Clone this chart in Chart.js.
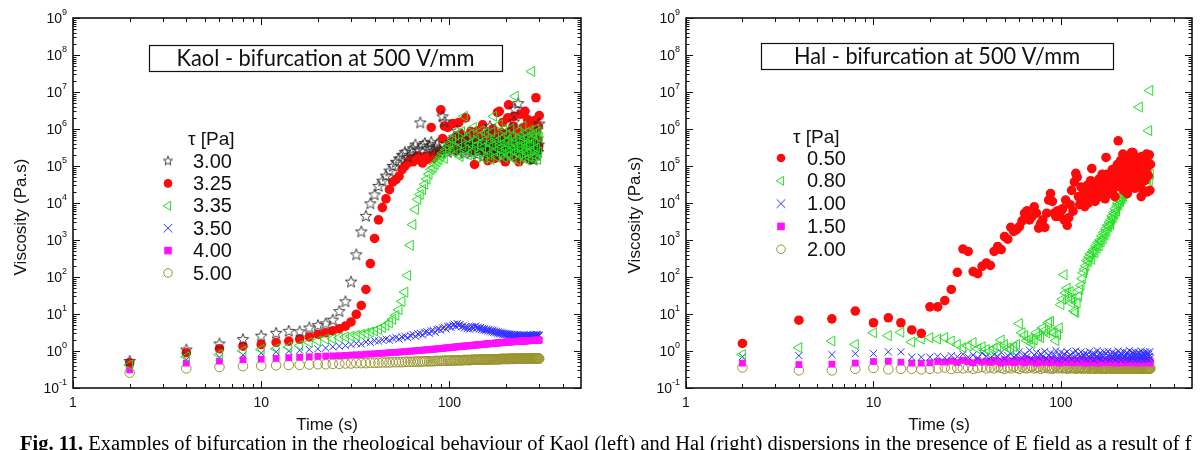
<!DOCTYPE html>
<html>
<head>
<meta charset="utf-8">
<script src="https://cdn.jsdelivr.net/npm/chart.js@4.4.1/dist/chart.umd.min.js"></script>
<style>
  html, body { margin: 0; padding: 0; background: #fff; }
  #wrap { position: relative; width: 1203px; height: 450px; overflow: hidden; }
  #left { position: absolute; left: 0; top: 0; }
  #right { position: absolute; left: 600px; top: 0; }
  #caption { position: absolute; left: 20px; top: 433px; white-space: nowrap; color: #000;
    font: 20.5px "Liberation Serif", "Times New Roman", serif; line-height: 20px; }
</style>
</head>
<body>
<div id="wrap">
  <canvas id="left" width="600" height="450"></canvas>
  <canvas id="right" width="603" height="450"></canvas>
  <div id="caption"><b>Fig. 11.</b> Examples of bifurcation in the rheological behaviour of Kaol (left) and Hal (right) dispersions in the presence of E field as a result of f</div>
</div>
<script>
// time (s), one reading every 2 s
const T = [
  2, 4, 6, 8, 10, 12, 14, 16, 18, 20,
  22, 24, 26, 28, 30, 32, 34, 36, 38, 40,
  42, 44, 46, 48, 50, 52, 54, 56, 58, 60,
  62, 64, 66, 68, 70, 72, 74, 76, 78, 80,
  82, 84, 86, 88, 90, 92, 94, 96, 98, 100,
  102, 104, 106, 108, 110, 112, 114, 116, 118, 120,
  122, 124, 126, 128, 130, 132, 134, 136, 138, 140,
  142, 144, 146, 148, 150, 152, 154, 156, 158, 160,
  162, 164, 166, 168, 170, 172, 174, 176, 178, 180,
  182, 184, 186, 188, 190, 192, 194, 196, 198, 200,
  202, 204, 206, 208, 210, 212, 214, 216, 218, 220,
  222, 224, 226, 228, 230, 232, 234, 236, 238, 240,
  242, 244, 246, 248, 250, 252, 254, 256, 258, 260,
  262, 264, 266, 268, 270, 272, 274, 276, 278, 280,
  282, 284, 286, 288, 290, 292, 294, 296, 298, 300
]

// ---- Kaol, viscosity (Pa.s) ----
const KAOL_300 = [
  0.54, 1.1, 1.6, 2.1, 2.6, 3.1, 3.5, 3.4, 4.3, 5.0,
  5.6, 7.0, 12, 22, 75, 410, 1700, 4500, 9800, 17000,
  29000, 40000, 55000, 75000, 1.0e5, 1.3e5, 1.6e5, 2.0e5, 2.4e5, 1.8e5,
  2.6e5, 3.0e5, 3.8e5, 2.8e5, 1.5e6, 3.6e5, 4.2e5, 3.0e5, 3.5e5, 4.5e5,
  2.6e5, 3.2e5, 4.0e5, 3.0e5, 2.2e5, 2.2e6, 1.6e6, 3.0e5, 2.4e5, 3.5e5,
  4.5e5, 2.8e5, 6.0e5, 3.2e5, 9.0e5, 2.5e5, 4.0e5, 3.0e5, 5.5e5, 2.2e5,
  3.6e5, 4.8e5, 2.7e5, 3.3e5, 6.5e5, 2.4e5, 3.8e5, 2.9e5, 4.4e5, 2.1e5,
  3.4e5, 5.0e5, 2.6e5, 3.1e5, 4.2e5, 1.9e5, 3.7e5, 2.8e5, 7.5e5, 2.3e5,
  3.5e5, 1.2e6, 2.7e5, 4.1e5, 3.0e5, 2.0e5, 4.6e5, 3.2e5, 2.5e5, 5.8e5,
  2.9e5, 3.9e5, 2.2e5, 4.4e5, 3.3e5, 1.8e5, 6.2e5, 2.6e5, 3.6e5, 2.4e5,
  4.9e5, 3.1e5, 2.0e5, 8.5e5, 3.4e5, 2.7e5, 4.3e5, 2.3e5, 3.8e5, 1.6e6,
  3.5e6, 2.9e5, 4.5e5, 2.1e5, 3.2e5, 5.0e6, 2.6e5, 4.0e5, 1.9e5, 3.0e5,
  5.4e5, 2.4e5, 3.7e5, 2.8e5, 6.8e5, 2.2e5, 3.3e5, 4.7e5, 1.8e5, 2.9e5,
  4.1e5, 2.5e5, 3.6e5, 1.7e5, 5.2e5, 2.7e5, 3.9e5, 1.6e5, 3.1e5, 1.5e5,
  4.6e5, 2.3e5, 8.0e5, 2.0e5, 3.4e5, 2.6e5, 5.6e5, 2.4e5, 3.8e5, 1.4e6
]
const KAOL_325 = [
  0.48, 0.9, 1.15, 1.35, 1.5, 1.7, 1.85, 2.1, 2.4, 2.8,
  3.1, 3.5, 4.0, 4.7, 6.1, 9.8, 17, 46, 230, 1100,
  3500, 7500, 13000, 23000, 37000, 43000, 53000, 80000, 1.0e5, 1.2e5,
  1.5e5, 1.3e5, 1.7e5, 1.9e5, 1.4e5, 1.2e5, 1.8e5, 1.5e5, 1.9e5, 1.1e6,
  1.6e5, 2.2e5, 2.0e5, 2.5e5, 3.3e6, 5.5e5, 1.2e6, 2.8e5, 1.1e6, 4.5e5,
  3.5e5, 1.4e6, 5.0e5, 2.6e5, 6.5e5, 1.5e6, 4.0e5, 7.0e5, 3.0e5, 5.5e5,
  2.0e6, 4.2e5, 6.0e5, 3.2e5, 8.5e5, 2.5e5, 4.8e5, 1.1e5, 6.2e5, 3.6e5,
  9.0e5, 2.8e5, 5.2e5, 4.0e5, 1.3e6, 3.0e5, 6.8e5, 2.2e5, 4.6e5, 1.4e5,
  7.5e5, 3.4e5, 5.8e5, 2.6e5, 1.0e6, 4.4e5, 1.6e5, 6.4e5, 3.1e5, 2.8e6,
  5.0e5, 3.0e6, 2.4e5, 8.0e5, 3.8e5, 1.5e6, 2.9e5, 5.6e5, 1.3e5, 7.2e5,
  4.1e5, 2.0e6, 4.5e6, 3.3e5, 6.0e5, 2.2e5, 9.5e5, 4.0e5, 1.2e6, 2.2e6,
  3.5e5, 5.4e5, 1.6e5, 8.0e5, 2.7e5, 6.6e5, 1.3e5, 4.3e5, 2.5e6, 3.6e5,
  7.0e5, 2.9e5, 1.1e6, 4.7e5, 2.3e5, 3.0e6, 5.5e5, 1.9e5, 8.8e5, 1.8e6,
  3.9e5, 6.2e5, 2.4e5, 1.4e6, 4.4e5, 1.5e5, 7.8e5, 3.2e5, 1.0e6, 2.6e5,
  5.9e5, 1.7e6, 3.7e5, 7.0e6, 8.2e5, 2.8e5, 4.9e5, 1.2e6, 3.4e5, 2.3e6
]
const KAOL_335 = [
  0.42, 0.7, 0.8, 1.0, 1.1, 1.15, 1.28, 1.4, 1.7, 1.85,
  2.1, 2.15, 2.3, 2.4, 2.5, 2.65, 2.8, 3.0, 3.25, 3.5,
  3.85, 4.3, 4.9, 5.8, 7.2, 9.2, 13, 22, 39, 110,
  720, 2600, 6700, 12500, 17000, 23000, 32000, 44000, 60000, 80000,
  90000, 1.1e5, 1.3e5, 1.5e5, 1.8e5, 2.2e5, 1.6e5, 2.8e5, 3.4e5, 4.0e5,
  2.6e5, 5.2e5, 3.0e5, 6.8e5, 2.2e5, 4.4e5, 1.8e5, 8.5e5, 3.6e5, 2.2e6,
  2.8e5, 5.8e5, 2.0e5, 4.0e5, 7.2e5, 2.4e5, 1.1e6, 3.3e5, 5.0e5, 1.7e5,
  3.8e5, 6.4e5, 2.3e5, 9.0e5, 3.1e5, 4.6e5, 1.6e5, 7.8e5, 2.7e5, 5.4e5,
  2.0e5, 4.2e5, 1.5e5, 8.2e5, 3.5e5, 2.2e6, 2.5e5, 6.0e5, 1.8e5, 4.8e5,
  2.9e5, 1.3e6, 3.7e5, 2.1e5, 5.6e5, 2.6e5, 9.6e5, 1.7e5, 4.3e5, 3.0e5,
  7.0e5, 2.3e5, 5.0e5, 1.9e5, 3.8e5, 1.0e6, 2.7e5, 6.2e5, 1.6e5, 4.5e5,
  3.2e5, 7.7e6, 2.4e5, 5.3e5, 1.4e5, 8.6e5, 3.4e5, 2.0e5, 6.6e5, 2.8e5,
  4.9e5, 1.8e5, 1.2e6, 3.6e5, 2.5e5, 5.7e5, 1.5e5, 4.0e5, 8.0e5, 2.2e5,
  3.3e5, 6.0e5, 1.7e5, 9.2e5, 3.9e5, 2.6e5, 3.6e7, 5.5e5, 1.6e5, 7.4e5,
  2.9e5, 4.5e5, 1.9e5, 1.0e6, 3.1e5, 6.3e5, 1.5e5, 8.5e5, 2.4e5, 6.0e5
]
const KAOL_350 = [
  0.45, 0.58, 0.68, 0.78, 0.88, 0.95, 1.0, 1.05, 1.1, 1.15,
  1.2, 1.3, 1.35, 1.4, 1.5, 1.6, 1.55, 1.75, 1.7, 1.9,
  1.85, 2.0, 2.1, 1.95, 2.2, 2.3, 2.1, 2.4, 2.5, 2.3,
  2.6, 2.8, 2.5, 2.9, 3.0, 2.7, 3.2, 3.3, 3.0, 3.5,
  3.6, 3.2, 3.8, 4.0, 3.6, 4.2, 4.4, 3.9, 4.6, 4.8,
  4.3, 5.0, 5.3, 4.6, 5.5, 4.9, 5.2, 4.5, 4.8, 4.2,
  4.6, 4.0, 4.4, 3.9, 4.3, 4.6, 4.1, 4.5, 4.7, 4.2,
  4.4, 3.9, 4.3, 3.8, 4.1, 3.7, 4.0, 3.6, 3.9, 3.5,
  3.8, 3.4, 3.7, 3.3, 3.6, 3.2, 3.5, 3.1, 3.4, 3.0,
  3.3, 2.9, 3.2, 2.95, 3.1, 2.8, 3.05, 2.75, 3.0, 2.7,
  2.95, 2.65, 2.9, 2.7, 2.85, 2.6, 2.8, 2.55, 2.75, 2.6,
  2.8, 2.5, 2.7, 2.55, 2.75, 2.5, 2.7, 2.45, 2.65, 2.5,
  2.7, 2.45, 2.65, 2.5, 2.7, 2.45, 2.6, 2.5, 2.7, 2.45,
  2.65, 2.5, 2.7, 2.55, 2.75, 2.5, 2.65, 2.55, 2.7, 2.5,
  2.75, 2.55, 2.7, 2.5, 2.8, 2.6, 2.75, 2.55, 2.7, 2.6
]
const KAOL_400 = [
  0.31, 0.47, 0.53, 0.58, 0.60, 0.63, 0.66, 0.68, 0.70, 0.72,
  0.73, 0.74, 0.75, 0.76, 0.78, 0.79, 0.80, 0.82, 0.83, 0.84,
  0.86, 0.87, 0.88, 0.90, 0.91, 0.92, 0.93, 0.95, 0.96, 0.97,
  0.99, 1.00, 1.01, 1.03, 1.04, 1.05, 1.07, 1.08, 1.09, 1.10,
  1.12, 1.13, 1.14, 1.16, 1.17, 1.18, 1.20, 1.21, 1.22, 1.24,
  1.25, 1.26, 1.27, 1.29, 1.30, 1.31, 1.32, 1.33, 1.35, 1.36,
  1.37, 1.38, 1.39, 1.40, 1.41, 1.42, 1.43, 1.44, 1.45, 1.46,
  1.47, 1.48, 1.49, 1.50, 1.51, 1.52, 1.53, 1.54, 1.55, 1.56,
  1.57, 1.58, 1.59, 1.60, 1.60, 1.61, 1.62, 1.63, 1.64, 1.65,
  1.66, 1.66, 1.67, 1.68, 1.69, 1.70, 1.70, 1.71, 1.72, 1.73,
  1.73, 1.74, 1.75, 1.75, 1.76, 1.77, 1.77, 1.78, 1.79, 1.79,
  1.80, 1.80, 1.81, 1.82, 1.82, 1.83, 1.83, 1.84, 1.84, 1.85,
  1.85, 1.86, 1.86, 1.87, 1.87, 1.88, 1.88, 1.89, 1.89, 1.90,
  1.90, 1.90, 1.91, 1.91, 1.92, 1.92, 1.92, 1.93, 1.93, 1.94,
  1.94, 1.94, 1.95, 1.95, 1.95, 1.96, 1.96, 1.96, 1.97, 1.97
]
const KAOL_500 = [
  0.26, 0.34, 0.37, 0.39, 0.40, 0.41, 0.42, 0.42, 0.43, 0.44,
  0.44, 0.45, 0.45, 0.46, 0.46, 0.47, 0.47, 0.47, 0.48, 0.48,
  0.48, 0.49, 0.49, 0.49, 0.50, 0.50, 0.50, 0.50, 0.51, 0.51,
  0.51, 0.51, 0.52, 0.52, 0.52, 0.52, 0.53, 0.53, 0.53, 0.53,
  0.53, 0.54, 0.54, 0.54, 0.54, 0.54, 0.55, 0.55, 0.55, 0.55,
  0.55, 0.55, 0.56, 0.56, 0.56, 0.56, 0.56, 0.56, 0.57, 0.57,
  0.57, 0.57, 0.57, 0.57, 0.57, 0.58, 0.58, 0.58, 0.58, 0.58,
  0.58, 0.58, 0.58, 0.59, 0.59, 0.59, 0.59, 0.59, 0.59, 0.59,
  0.59, 0.59, 0.60, 0.60, 0.60, 0.60, 0.60, 0.60, 0.60, 0.60,
  0.60, 0.60, 0.60, 0.61, 0.61, 0.61, 0.61, 0.61, 0.61, 0.61,
  0.61, 0.61, 0.61, 0.61, 0.62, 0.61, 0.62, 0.62, 0.61, 0.62,
  0.62, 0.62, 0.61, 0.62, 0.62, 0.62, 0.62, 0.62, 0.62, 0.62,
  0.62, 0.62, 0.62, 0.63, 0.62, 0.62, 0.63, 0.62, 0.63, 0.62,
  0.63, 0.62, 0.63, 0.63, 0.62, 0.63, 0.63, 0.63, 0.62, 0.63,
  0.63, 0.63, 0.63, 0.62, 0.63, 0.63, 0.63, 0.63, 0.63, 0.62
]

// ---- Hal, viscosity (Pa.s) ----
const HAL_050 = [
  1.6, 6.8, 7.4, 12, 5.8, 7.9, 5.8, 3.7, 3.0, 15.6,
  15.6, 23, 46, 134, 570, 490, 140, 123, 195, 240,
  205, 490, 670, 550, 1240, 1050, 2200, 1700, 1900, 2300,
  3300, 5300, 6200, 3500, 4300, 7900, 5300, 2100, 2800, 3500,
  2200, 5300, 12000, 18000, 11000, 5300, 4300, 6200, 4400, 6000,
  7000, 3500, 12000, 2500, 4000, 9000, 22000, 6000, 37000, 63000,
  50000, 15000, 9000, 27000, 12000, 22000, 8000, 16000, 30000, 10000,
  19000, 40000, 85000, 14000, 25000, 11000, 33000, 20000, 18000, 45000,
  15000, 28000, 60000, 22000, 35000, 13000, 1.7e5, 60000, 26000, 40000,
  18000, 55000, 30000, 80000, 24000, 42000, 15000, 65000, 34000, 1.1e5,
  4.8e5, 28000, 50000, 1.4e5, 36000, 75000, 2.1e5, 22000, 45000, 1.2e5,
  32000, 60000, 18000, 90000, 40000, 1.6e5, 27000, 70000, 2.3e5, 35000,
  2.3e5, 55000, 1.0e5, 25000, 60000, 1.5e5, 38000, 80000, 1.7e5, 45000,
  1.2e5, 30000, 65000, 15000, 1.8e5, 50000, 22000, 95000, 1.3e5, 40000,
  1.6e5, 70000, 2.1e5, 20000, 1.0e5, 55000, 1.2e5, 2.0e5, 22000, 1.1e5
]
const HAL_080 = [
  0.8, 1.23, 1.86, 1.5, 3.1, 2.6, 3.2, 1.75, 2.1, 2.3,
  2.1, 2.3, 1.86, 1.5, 1.23, 1.36, 1.7, 1.15, 1.3, 1.1,
  1.0, 1.2, 1.3, 1.98, 1.5, 1.2, 1.1, 1.3, 1.5, 5.5,
  3.1, 2.6, 1.9, 2.1, 1.6, 2.0, 3.1, 2.6, 2.3, 4.2,
  3.6, 3.1, 5.8, 6.4, 3.2, 3.1, 1.9, 2.8, 4.2, 18,
  25, 115, 37, 50, 27, 40, 20, 26, 12, 11,
  20, 30, 45, 60, 90, 130, 160, 200, 280, 260,
  350, 420, 300, 480, 550, 450, 700, 600, 850, 700,
  1000, 900, 1300, 1100, 1600, 1400, 2000, 1700, 2500, 2300,
  3000, 2600, 3500, 4500, 4000, 5500, 5000, 7000, 6000, 8500,
  10000, 9000, 12000, 11000, 14000, 13000, 17000, 15000, 20000, 18000,
  24000, 21000, 28000, 25000, 33000, 30000, 38000, 35000, 45000, 50000,
  42000, 55000, 60000, 52000, 70000, 65000, 80000, 72000, 90000, 1.1e5,
  3.9e6, 1.4e5, 1.0e5, 1.6e5, 1.2e5, 1.8e5, 90000, 1.4e5, 70000, 2.0e5,
  60000, 1.6e5, 50000, 1.2e5, 45000, 80000, 9.0e5, 40000, 1.1e7, 60000
]
const HAL_100 = [
  0.70, 0.75, 0.80, 0.85, 0.85, 0.95, 0.95, 0.68, 0.68, 0.68,
  0.72, 0.66, 0.75, 0.70, 0.82, 0.68, 0.78, 0.64, 0.88, 0.72,
  0.66, 0.80, 0.70, 0.92, 0.62, 0.76, 0.85, 0.68, 0.74, 0.95,
  0.65, 0.82, 0.72, 1.05, 0.60, 0.78, 0.90, 0.66, 0.84, 0.70,
  0.98, 0.62, 0.76, 0.88, 0.64, 0.80, 1.02, 0.58, 0.74, 0.92,
  0.66, 0.84, 0.60, 0.96, 0.70, 0.78, 0.62, 0.90, 0.68, 1.00,
  0.58, 0.82, 0.72, 0.94, 0.64, 0.76, 0.88, 0.60, 0.80, 0.70,
  0.96, 0.62, 0.74, 0.86, 0.58, 0.82, 0.68, 1.02, 0.64, 0.78,
  0.90, 0.60, 0.76, 0.70, 0.94, 0.62, 0.84, 0.66, 0.98, 0.72,
  0.58, 0.80, 0.68, 0.92, 0.64, 0.76, 0.86, 0.60, 0.82, 0.70,
  1.00, 0.62, 0.74, 0.88, 0.58, 0.80, 0.66, 0.96, 0.70, 0.78,
  0.60, 0.90, 0.64, 0.84, 0.72, 1.02, 0.58, 0.76, 0.68, 0.92,
  0.62, 0.82, 0.70, 0.96, 0.60, 0.78, 0.86, 0.64, 0.74, 0.90,
  0.58, 0.84, 0.68, 1.00, 0.62, 0.76, 0.88, 0.60, 0.80, 0.72,
  0.94, 0.62, 0.78, 0.66, 0.90, 0.58, 0.82, 0.70, 0.96, 0.64
]
const HAL_150 = [
  0.47, 0.43, 0.44, 0.47, 0.52, 0.53, 0.50, 0.47, 0.47, 0.48,
  0.52, 0.50, 0.54, 0.49, 0.56, 0.51, 0.48, 0.55, 0.50, 0.53,
  0.49, 0.56, 0.52, 0.47, 0.58, 0.50, 0.54, 0.48, 0.57, 0.51,
  0.55, 0.48, 0.60, 0.52, 0.50, 0.56, 0.47, 0.58, 0.53, 0.49,
  0.57, 0.51, 0.54, 0.48, 0.59, 0.50, 0.55, 0.52, 0.47, 0.56,
  0.50, 0.58, 0.53, 0.49, 0.55, 0.51, 0.57, 0.48, 0.54, 0.52,
  0.56, 0.49, 0.52, 0.58, 0.50, 0.54, 0.47, 0.55, 0.51, 0.57,
  0.48, 0.53, 0.56, 0.50, 0.58, 0.49, 0.52, 0.55, 0.47, 0.54,
  0.51, 0.57, 0.49, 0.53, 0.55, 0.48, 0.56, 0.50, 0.52, 0.58,
  0.49, 0.54, 0.51, 0.56, 0.48, 0.53, 0.57, 0.50, 0.55, 0.47,
  0.52, 0.58, 0.50, 0.54, 0.49, 0.56, 0.51, 0.53, 0.48, 0.55,
  0.57, 0.50, 0.53, 0.48, 0.55, 0.52, 0.49, 0.56, 0.51, 0.54,
  0.48, 0.55, 0.52, 0.57, 0.50, 0.53, 0.47, 0.54, 0.56, 0.49,
  0.53, 0.50, 0.56, 0.48, 0.54, 0.51, 0.57, 0.49, 0.52, 0.55,
  0.50, 0.54, 0.48, 0.53, 0.56, 0.49, 0.52, 0.55, 0.47, 0.51
]
const HAL_200 = [
  0.36, 0.30, 0.30, 0.33, 0.35, 0.32, 0.33, 0.33, 0.32, 0.33,
  0.34, 0.36, 0.33, 0.35, 0.34, 0.36, 0.33, 0.35, 0.37, 0.34,
  0.36, 0.34, 0.37, 0.35, 0.33, 0.36, 0.34, 0.38, 0.35, 0.33,
  0.37, 0.35, 0.34, 0.36, 0.38, 0.34, 0.35, 0.37, 0.33, 0.36,
  0.35, 0.37, 0.34, 0.36, 0.33, 0.35, 0.38, 0.34, 0.36, 0.35,
  0.34, 0.36, 0.35, 0.33, 0.37, 0.35, 0.34, 0.36, 0.35, 0.33,
  0.36, 0.34, 0.35, 0.37, 0.33, 0.35, 0.34, 0.36, 0.34, 0.35,
  0.33, 0.35, 0.36, 0.34, 0.35, 0.33, 0.36, 0.34, 0.35, 0.34,
  0.36, 0.33, 0.35, 0.34, 0.36, 0.34, 0.33, 0.35, 0.34, 0.36,
  0.34, 0.35, 0.33, 0.36, 0.34, 0.35, 0.34, 0.33, 0.35, 0.34,
  0.33, 0.35, 0.34, 0.36, 0.33, 0.34, 0.35, 0.33, 0.34, 0.35,
  0.34, 0.33, 0.35, 0.34, 0.33, 0.35, 0.34, 0.36, 0.33, 0.34,
  0.35, 0.33, 0.34, 0.35, 0.33, 0.34, 0.33, 0.35, 0.34, 0.33,
  0.34, 0.35, 0.33, 0.34, 0.33, 0.35, 0.34, 0.33, 0.34, 0.35,
  0.33, 0.34, 0.35, 0.33, 0.34, 0.33, 0.35, 0.34, 0.33, 0.34
]

// axes
const X_MAJOR = [1, 10, 100]
const X_LABELS = ['1', '10', '100']
const X_MINOR = [2, 3, 4, 5, 6, 7, 8, 9, 20, 30, 40, 50, 60, 70, 80, 90, 200, 300, 400]
const Y_MAJOR = [0.1, 1, 10, 100, 1e3, 1e4, 1e5, 1e6, 1e7, 1e8, 1e9]
const Y_EXP = ['-1', '0', '1', '2', '3', '4', '5', '6', '7', '8', '9']
const X_TITLE = 'Time (s)'
const Y_TITLE = 'Viscosity (Pa.s)'
const LEGEND_TITLE = '\u03c4 [Pa]'

const RED = '#ff0a0a', GREEN = '#22e022', BLUE = '#3030ff', MAGENTA = '#ff10ff', OLIVE = '#9a9430', STARC = '#2a2a2a'
const SANS = '"Liberation Sans", Arial, sans-serif'

// open five-point star used for the 3.00 Pa series
function makeStar(R, r) {
  const c = document.createElement('canvas')
  c.width = 16; c.height = 16
  const g = c.getContext('2d')
  g.strokeStyle = STARC; g.lineWidth = 0.9
  g.beginPath()
  for (let i = 0; i < 10; i++) {
    const a = -Math.PI / 2 + i * Math.PI / 5, rr = i % 2 ? r : R
    const px = 8 + Math.cos(a) * rr, py = 8.5 + Math.sin(a) * rr
    i ? g.lineTo(px, py) : g.moveTo(px, py)
  }
  g.closePath(); g.stroke()
  return c
}
const STAR = makeStar(6, 2.6)
const STAR_SMALL = makeStar(4.8, 2.1)

function pts(vals) { return T.map((t, i) => ({ x: t, y: vals[i] })) }

const STYLES = {
  star:   { pointStyle: STAR, pointRadius: 5 },
  dot:    { pointStyle: 'circle', pointRadius: 4.8, pointBorderWidth: 0, pointBackgroundColor: RED },
  tri:    { pointStyle: 'triangle', pointRotation: -90, pointRadius: 5.8, pointBorderWidth: 1, pointBorderColor: GREEN, pointBackgroundColor: 'rgba(0,0,0,0)' },
  cross:  { pointStyle: 'crossRot', pointRadius: 5, pointBorderWidth: 1, pointBorderColor: BLUE },
  square: { pointStyle: 'rect', pointRadius: 4.8, pointBorderWidth: 0, pointBackgroundColor: MAGENTA },
  ring:   { pointStyle: 'circle', pointRadius: 4.8, pointBorderWidth: 1, pointBorderColor: OLIVE, pointBackgroundColor: 'rgba(0,0,0,0)' }
}

function marker(ctx, kind, x, y) {
  ctx.save()
  ctx.lineWidth = 1
  ctx.beginPath()
  if (kind === 'star') {
    ctx.drawImage(STAR_SMALL, x - 8, y - 8.5)
  } else if (kind === 'dot') {
    ctx.fillStyle = RED; ctx.arc(x, y, 4.3, 0, Math.PI * 2); ctx.fill()
  } else if (kind === 'tri') {
    ctx.strokeStyle = GREEN
    ctx.moveTo(x - 4.8, y); ctx.lineTo(x + 2.6, y - 4.5); ctx.lineTo(x + 2.6, y + 4.5); ctx.closePath(); ctx.stroke()
  } else if (kind === 'cross') {
    ctx.strokeStyle = BLUE
    ctx.moveTo(x - 4.3, y - 4.3); ctx.lineTo(x + 4.3, y + 4.3); ctx.moveTo(x + 4.3, y - 4.3); ctx.lineTo(x - 4.3, y + 4.3); ctx.stroke()
  } else if (kind === 'square') {
    ctx.fillStyle = MAGENTA; ctx.fillRect(x - 3.8, y - 3.8, 7.6, 7.6)
  } else if (kind === 'ring') {
    ctx.strokeStyle = OLIVE; ctx.arc(x, y, 4.3, 0, Math.PI * 2); ctx.stroke()
  }
  ctx.restore()
}

const deco = {
  id: 'deco',
  afterDatasetsDraw(chart, args, o) {
    const ctx = chart.ctx, a = chart.chartArea, xs = chart.scales.x, ys = chart.scales.y
    ctx.save()
    ctx.strokeStyle = '#111'
    ctx.lineWidth = 1
    ctx.beginPath()
    const xt = (v, len) => {
      const p = Math.round(xs.getPixelForValue(v)) + 0.5
      ctx.moveTo(p, a.bottom); ctx.lineTo(p, a.bottom - len)
      ctx.moveTo(p, a.top); ctx.lineTo(p, a.top + len)
    }
    const yt = (v, len) => {
      const p = Math.round(ys.getPixelForValue(v)) + 0.5
      ctx.moveTo(a.left, p); ctx.lineTo(a.left + len, p)
      ctx.moveTo(a.right, p); ctx.lineTo(a.right - len, p)
    }
    X_MAJOR.forEach(v => xt(v, 7))
    X_MINOR.forEach(v => xt(v, 4))
    Y_MAJOR.forEach(v => yt(v, 7))
    Y_MAJOR.slice(0, -1).forEach(d => { for (let m = 2; m < 10; m++) yt(d * m, 3.5) })
    ctx.stroke()
    ctx.lineWidth = 1.6
    ctx.strokeRect(a.left, a.top, a.right - a.left, a.bottom - a.top)

    ctx.fillStyle = '#111'
    ctx.font = '14px ' + SANS
    ctx.textAlign = 'center'; ctx.textBaseline = 'top'
    X_MAJOR.forEach((v, i) => ctx.fillText(X_LABELS[i], xs.getPixelForValue(v), a.bottom + 8))

    ctx.textAlign = 'left'; ctx.textBaseline = 'alphabetic'
    Y_MAJOR.forEach((v, i) => {
      const p = ys.getPixelForValue(v), e = Y_EXP[i]
      ctx.font = '9px ' + SANS
      const we = ctx.measureText(e).width
      ctx.font = '14px ' + SANS
      const wb = ctx.measureText('10').width
      const r = a.left - 6
      ctx.fillText('10', r - we - wb, p + 5)
      ctx.font = '9px ' + SANS
      ctx.fillText(e, r - we, p - 3)
    })

    ctx.font = '17px ' + SANS
    ctx.textAlign = 'center'; ctx.textBaseline = 'middle'
    ctx.fillText(X_TITLE, (a.left + a.right) / 2, o.xTitleY)
    ctx.save()
    ctx.translate(o.yTitleX, o.yTitleY); ctx.rotate(-Math.PI / 2)
    ctx.fillText(Y_TITLE, 0, 0)
    ctx.restore()

    // title box
    const b = o.box
    ctx.lineWidth = 1.2; ctx.strokeStyle = '#111'
    ctx.strokeRect(b.x + 0.5, b.y + 0.5, b.w, b.h)
    ctx.font = '23px Lato, "Open Sans", sans-serif'
    const tw = ctx.measureText(b.text).width
    ctx.save()
    ctx.translate(b.x + b.w / 2, b.y + b.h / 2 + 1)
    ctx.scale(b.textW / tw, 1)
    ctx.fillText(b.text, 0, 0)
    ctx.restore()

    // legend
    const L = o.legend
    ctx.font = '19px ' + SANS
    ctx.textAlign = 'left'; ctx.textBaseline = 'middle'
    ctx.fillText(LEGEND_TITLE, L.titleX, L.titleY)
    ctx.font = '20px ' + SANS
    L.rows.forEach((row, i) => {
      const yy = L.y0 + i * L.dy
      marker(ctx, row.kind, L.markX, yy)
      ctx.fillStyle = '#111'
      ctx.fillText(row.label, L.textX, yy + 1)
    })
    ctx.restore()
  }
}

function makeChart(id, sets, pad, opts) {
  return new Chart(document.getElementById(id), {
    type: 'scatter',
    data: {
      datasets: sets.map(s => Object.assign({ label: s.label, data: pts(s.vals), order: s.order }, STYLES[s.kind]))
    },
    options: {
      responsive: false, animation: false, events: [],
      layout: { padding: pad },
      plugins: { legend: { display: false }, tooltip: { enabled: false }, deco: opts },
      scales: {
        x: { type: 'logarithmic', min: 1, max: 500, display: false },
        y: { type: 'logarithmic', min: 0.1, max: 1e9, display: false }
      }
    },
    plugins: [deco]
  })
}

const kaolSets = [
  { label: '3.00', vals: KAOL_300, kind: 'star', order: 2 },
  { label: '3.25', vals: KAOL_325, kind: 'dot', order: 3 },
  { label: '3.35', vals: KAOL_335, kind: 'tri', order: 1 },
  { label: '3.50', vals: KAOL_350, kind: 'cross', order: 5 },
  { label: '4.00', vals: KAOL_400, kind: 'square', order: 4 },
  { label: '5.00', vals: KAOL_500, kind: 'ring', order: 6 }
]
const halSets = [
  { label: '0.50', vals: HAL_050, kind: 'dot', order: 1 },
  { label: '0.80', vals: HAL_080, kind: 'tri', order: 2 },
  { label: '1.00', vals: HAL_100, kind: 'cross', order: 3 },
  { label: '1.50', vals: HAL_150, kind: 'square', order: 4 },
  { label: '2.00', vals: HAL_200, kind: 'ring', order: 5 }
]

makeChart('left', kaolSets, { left: 73, right: 19, top: 18, bottom: 62 }, {
  xTitleY: 425, yTitleX: 21, yTitleY: 217,
  box: { x: 149, y: 45, w: 353, h: 26, text: 'Kaol - bifurcation at 500 V/mm', textW: 298 },
  legend: { titleX: 188, titleY: 140, markX: 168, textX: 193, y0: 161, dy: 22.4,
    rows: kaolSets.map(s => ({ label: s.label, kind: s.kind })) }
})
makeChart('right', halSets, { left: 86, right: 11, top: 18, bottom: 62 }, {
  xTitleY: 425, yTitleX: 35, yTitleY: 215,
  box: { x: 161, y: 43, w: 352, h: 26, text: 'Hal - bifurcation at 500 V/mm', textW: 286 },
  legend: { titleX: 193, titleY: 138, markX: 181, textX: 207, y0: 158, dy: 22.8,
    rows: halSets.map(s => ({ label: s.label, kind: s.kind })) }
})
</script>
</body>
</html>
